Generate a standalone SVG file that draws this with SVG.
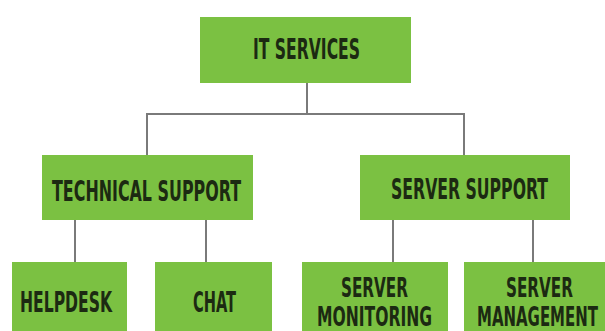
<svg xmlns="http://www.w3.org/2000/svg" width="605" height="331" viewBox="0 0 605 331">
<style>
.box{fill:#7bc142}
.lbl{font-family:"DejaVu Sans Condensed","DejaVu Sans","Liberation Sans",sans-serif;font-weight:bold;font-size:28px;fill:#1c2a12;text-anchor:middle}
.sm{font-size:26px}
.ln{stroke:#7a7a7a;stroke-width:2;fill:none}
</style>
<rect width="605" height="331" fill="#ffffff"/>
<g id="connectors" class="ln">
<path d="M307 83V114M147 155V114H464V155"/>
<path d="M75 220V262M206 220V262"/>
<path d="M393 220V262M533 220V262"/>
</g>
<g id="it-services">
<rect class="box" x="200" y="17" width="211" height="66"/>
<text class="lbl" x="306.5" y="59" textLength="107" lengthAdjust="spacingAndGlyphs">IT SERVICES</text>
</g>
<g id="technical-support">
<rect class="box" x="42" y="155" width="211" height="65"/>
<text class="lbl" x="146.5" y="201" textLength="189" lengthAdjust="spacingAndGlyphs">TECHNICAL SUPPORT</text>
</g>
<g id="server-support">
<rect class="box" x="360" y="155" width="210" height="65"/>
<text class="lbl" x="469.5" y="199" textLength="157" lengthAdjust="spacingAndGlyphs">SERVER SUPPORT</text>
</g>
<g id="helpdesk">
<rect class="box" x="12" y="262" width="115" height="80"/>
<text class="lbl" x="66" y="312" textLength="92" lengthAdjust="spacingAndGlyphs">HELPDESK</text>
</g>
<g id="chat">
<rect class="box" x="155" y="262" width="117" height="80"/>
<text class="lbl" x="214.5" y="312" textLength="43" lengthAdjust="spacingAndGlyphs">CHAT</text>
</g>
<g id="server-monitoring">
<rect class="box" x="302" y="262" width="146" height="80"/>
<text class="lbl sm" x="374.5" y="297" textLength="67" lengthAdjust="spacingAndGlyphs">SERVER</text>
<text class="lbl sm" x="374.5" y="326" textLength="115" lengthAdjust="spacingAndGlyphs">MONITORING</text>
</g>
<g id="server-management">
<rect class="box" x="464" y="262" width="150" height="80"/>
<text class="lbl sm" x="539.5" y="297" textLength="67" lengthAdjust="spacingAndGlyphs">SERVER</text>
<text class="lbl sm" x="537.5" y="326" textLength="121" lengthAdjust="spacingAndGlyphs">MANAGEMENT</text>
</g>
</svg>
